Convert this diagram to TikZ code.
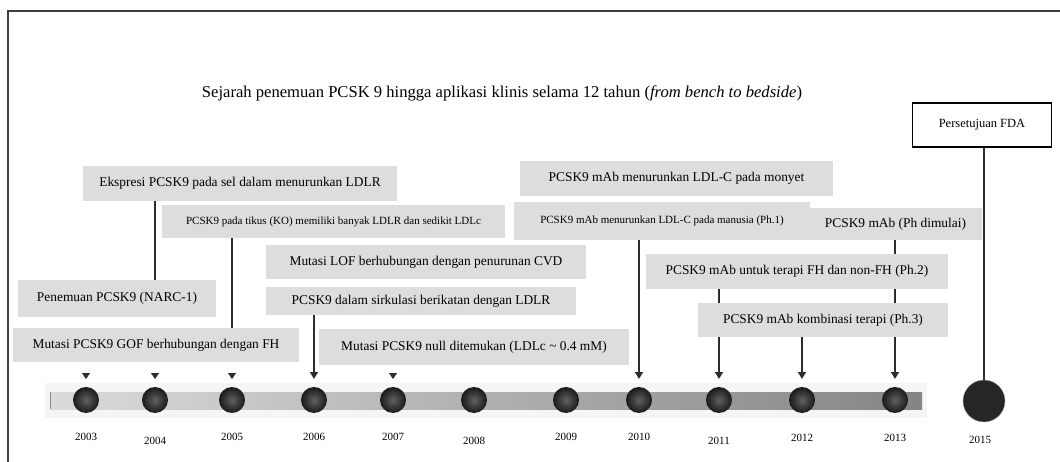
\documentclass[tikz,border=0pt]{standalone}
\usepackage{fontspec}
\setmainfont{Liberation Serif}
\usetikzlibrary{arrows.meta,backgrounds}
\definecolor{boxgray}{RGB}{220,221,223}
\definecolor{inkgray}{RGB}{45,45,45}
\tikzset{
  evt/.style={fill=boxgray, inner sep=0pt, font=\fontsize{13.4}{16}\selectfont},
  evtsmall/.style={evt, font=\fontsize{11}{13}\selectfont},
  yr/.style={font=\fontsize{11}{13}\selectfont},
  ballnode/.style={circle, minimum size=26pt, inner sep=0pt, shading=radial, inner color=black!62, outer color=black!90},
  stem/.style={draw=inkgray, line width=2pt},
  tip/.style={stem, -{Triangle[width=8pt,length=7pt]}},
  minitip/.style={draw=inkgray, line width=1pt, shorten <=11pt, -{Triangle[width=8pt,length=6pt]}}
}
\begin{document}
\begin{tikzpicture}[x=1pt, y=-1pt]
    \useasboundingbox (0,0) rectangle (1060,462);
    \draw[line width=1.6pt, draw=black!75] (8,470) -- (8,11) -- (1070,11);

    \node[font=\fontsize{16.6}{20}\selectfont] (title) at (502,93)
        {Sejarah penemuan PCSK 9 hingga aplikasi klinis selama 12 tahun (\textit{from bench to bedside})};

    % timeline
    \fill[black!4] (45,383) rectangle (927,418);
    \shade[left color=black!14, right color=black!48] (50,392) rectangle (922,409);
    \draw[black!45, line width=1pt] (50,392) -- (50,409);
    \foreach \yr/\x/\ly in {2003/86/437, 2004/155/441, 2005/232/437, 2006/314/437,
        2007/393/437, 2008/474/441, 2009/566/437, 2010/639/437, 2011/719/441,
        2012/802/438, 2013/895/438} {
        \node[ballnode] (b\yr) at (\x,400) {};
        \coordinate (t\yr) at (\x,379);
        \node[yr] (y\yr) at (\x,\ly) {\yr};
    }
    \node[circle, minimum size=42pt, inner sep=0pt, fill=black!85, draw=black!40] (b2015) at (984,401) {};
    \node[yr] (y2015) at (980,440) {2015};

    % events
    \node[evt, minimum width=314pt, minimum height=35pt] (ekspresi) at (240,183.5) {Ekspresi PCSK9 pada sel dalam menurunkan LDLR};
    \node[evtsmall, minimum width=343pt, minimum height=33pt] (tikus) at (333.5,221.5) {PCSK9 pada tikus (KO) memiliki banyak LDLR dan sedikit LDLc};
    \node[evt, minimum width=198pt, minimum height=37pt] (narc) at (117,298.5) {Penemuan PCSK9 (NARC-1)};
    \node[evt, minimum width=286pt, minimum height=34pt] (gof) at (156,345) {Mutasi PCSK9 GOF berhubungan dengan FH};
    \node[evt, minimum width=320pt, minimum height=34pt] (lof) at (426,262) {Mutasi LOF berhubungan dengan penurunan CVD};
    \node[evt, minimum width=310pt, minimum height=28pt] (sirkulasi) at (421,301) {PCSK9 dalam sirkulasi berikatan dengan LDLR};
    \node[evt, minimum width=310pt, minimum height=36pt] (null) at (474,347) {Mutasi PCSK9 null ditemukan (LDLc \textasciitilde{} 0.4 mM)};
    \node[evt, minimum width=313pt, minimum height=35pt] (monyet) at (676.5,178.5) {PCSK9 mAb menurunkan LDL-C pada monyet};
    \node[evtsmall, minimum width=296pt, minimum height=38pt] (manusia) at (662,221) {PCSK9 mAb menurunkan LDL-C pada manusia (Ph.1)};
    \node[evt, minimum width=173pt, minimum height=32pt] (mulai) at (895.5,224) {PCSK9 mAb (Ph dimulai)};
    \node[evt, minimum width=302pt, minimum height=35pt] (ph2) at (797,271.5) {PCSK9 mAb untuk terapi FH dan non-FH (Ph.2)};
    \node[evt, minimum width=250pt, minimum height=34pt] (ph3) at (823,320) {PCSK9 mAb kombinasi terapi (Ph.3)};
    \node[draw=black, line width=1.5pt, fill=white, minimum width=139pt, minimum height=44pt,
        font=\fontsize{12.5}{15}\selectfont] (fda) at (982,125) {Persetujuan FDA};

    % connectors
    \begin{scope}[on background layer]
        \draw[stem] (ekspresi.south -| b2004) -- (narc.north -| b2004);
        \draw[stem] (tikus.south -| b2005) -- (gof.north -| b2005);
        \draw[tip] (sirkulasi.south -| t2006) -- (t2006);
        \draw[tip] (manusia.south -| t2010) -- (t2010);
        \draw[tip] (ph2.south -| t2011) -- (t2011);
        \draw[tip] (ph3.south -| t2012) -- (t2012);
        \draw[tip] (mulai.south -| t2013) -- (t2013);
        \draw[stem] (fda.south -| b2015) -- (b2015.north);
    \end{scope}
    \foreach \yr in {2003, 2004, 2005} {
        \draw[minitip] (gof.south -| t\yr) -- (t\yr);
    }
    \draw[minitip] (null.south -| t2007) -- (t2007);

\end{tikzpicture}
\end{document}
